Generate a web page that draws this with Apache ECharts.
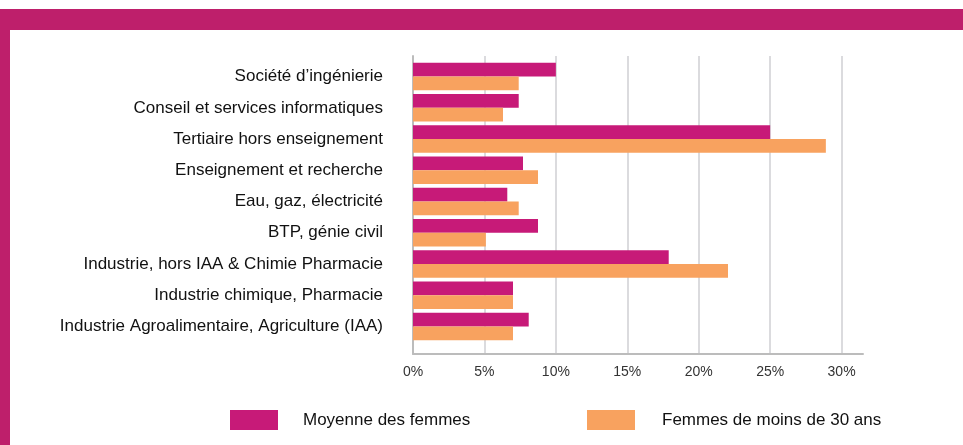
<!DOCTYPE html>
<html>
<head>
<meta charset="utf-8">
<script src="https://cdn.jsdelivr.net/npm/echarts@6/dist/echarts.min.js"></script>
<style>
html,body{margin:0;padding:0;background:#fff;}
#chart{width:963px;height:445px;}
</style>
</head>
<body>
<div id="chart"></div>
<script>
var categories = [
  "Société d’ingénierie",
  "Conseil et services informatiques",
  "Tertiaire hors enseignement",
  "Enseignement et recherche",
  "Eau, gaz, électricité",
  "BTP, génie civil",
  "Industrie, hors IAA & Chimie Pharmacie",
  "Industrie chimique, Pharmacie",
  "Industrie Agroalimentaire, Agriculture (IAA)"
];
var moyenneFemmes = [10.0, 7.4, 25.0, 7.7, 6.6, 8.75, 17.9, 7.0, 8.1];
var femmesMoins30 = [7.4, 6.3, 28.9, 8.75, 7.4, 5.1, 22.05, 7.0, 7.0];
var seriesNames = ["Moyenne des femmes", "Femmes de moins de 30 ans"];
var xTickStep = 5;
var xMax = 31.5;

var MAGENTA = '#C71A78';
var ORANGE = '#F8A25F';
var BORDER = '#BE1F6B';
var FONT = '"Liberation Sans", Arial, Helvetica, sans-serif';

var chart = echarts.init(document.getElementById('chart'), null, {renderer: 'canvas'});
var option = {
  backgroundColor: '#fff',
  animation: false,
  textStyle: {fontFamily: FONT},
  graphic: [
    {type: 'rect', shape: {x: 0, y: 9, width: 963, height: 21}, style: {fill: BORDER}, z: 10},
    {type: 'rect', shape: {x: 0, y: 30, width: 10, height: 415}, style: {fill: BORDER}, z: 10}
  ],
  legend: [
    {
      data: [seriesNames[0]], left: 230, top: 410, padding: 0,
      itemWidth: 48, itemHeight: 20, icon: 'rect',
      textStyle: {fontSize: 17, color: '#111', fontFamily: FONT, padding: [0, 0, 0, 20]}
    },
    {
      data: [seriesNames[1]], left: 587, top: 410, padding: 0,
      itemWidth: 48, itemHeight: 20, icon: 'rect',
      textStyle: {fontSize: 17, color: '#111', fontFamily: FONT, padding: [0, 0, 0, 22]}
    }
  ],
  grid: [
    {left: 413, right: 100, top: 61, bottom: 103, containLabel: false},
    {left: 413, right: 100, top: 56, bottom: 91, containLabel: false}
  ],
  xAxis: [
    {
      gridIndex: 0, type: 'value', min: 0, max: xMax, interval: xTickStep,
      axisLine: {show: false}, axisTick: {show: false}, axisLabel: {show: false}, splitLine: {show: false}
    },
    {
      gridIndex: 1, type: 'value', min: 0, max: xMax, interval: xTickStep,
      axisLine: {show: true, lineStyle: {color: '#bcbcbc', width: 2}},
      axisTick: {show: false},
      axisLabel: {
        fontSize: 14, color: '#333', margin: 11, fontFamily: FONT,
        formatter: function (v) { return (Math.abs(v % xTickStep) < 1e-9) ? v + '%' : ''; }
      },
      splitLine: {show: true, lineStyle: {color: ['#cfcfd3','#cfcfd3','#cfcfd3','#cfcfd3','#cfcfd3','#cfcfd3','#cfcfd3','rgba(0,0,0,0)'], width: 1.5}}
    }
  ],
  yAxis: [
    {
      gridIndex: 0, type: 'category', data: categories, inverse: true,
      axisLine: {show: false}, axisTick: {show: false},
      axisLabel: {fontSize: 17, color: '#111', margin: 30, fontFamily: FONT}
    },
    {
      gridIndex: 1, type: 'value', min: 0, max: 1,
      axisLine: {show: true, lineStyle: {color: '#bcbcbc', width: 2}},
      axisTick: {show: false}, axisLabel: {show: false}, splitLine: {show: false}
    }
  ],
  series: [
    {
      name: seriesNames[0], type: 'bar', xAxisIndex: 0, yAxisIndex: 0,
      data: moyenneFemmes, itemStyle: {color: MAGENTA},
      barGap: '0%', barCategoryGap: '12%'
    },
    {
      name: seriesNames[1], type: 'bar', xAxisIndex: 0, yAxisIndex: 0,
      data: femmesMoins30, itemStyle: {color: ORANGE},
      barGap: '0%', barCategoryGap: '12%'
    }
  ]
};
chart.setOption(option);
</script>
</body>
</html>
